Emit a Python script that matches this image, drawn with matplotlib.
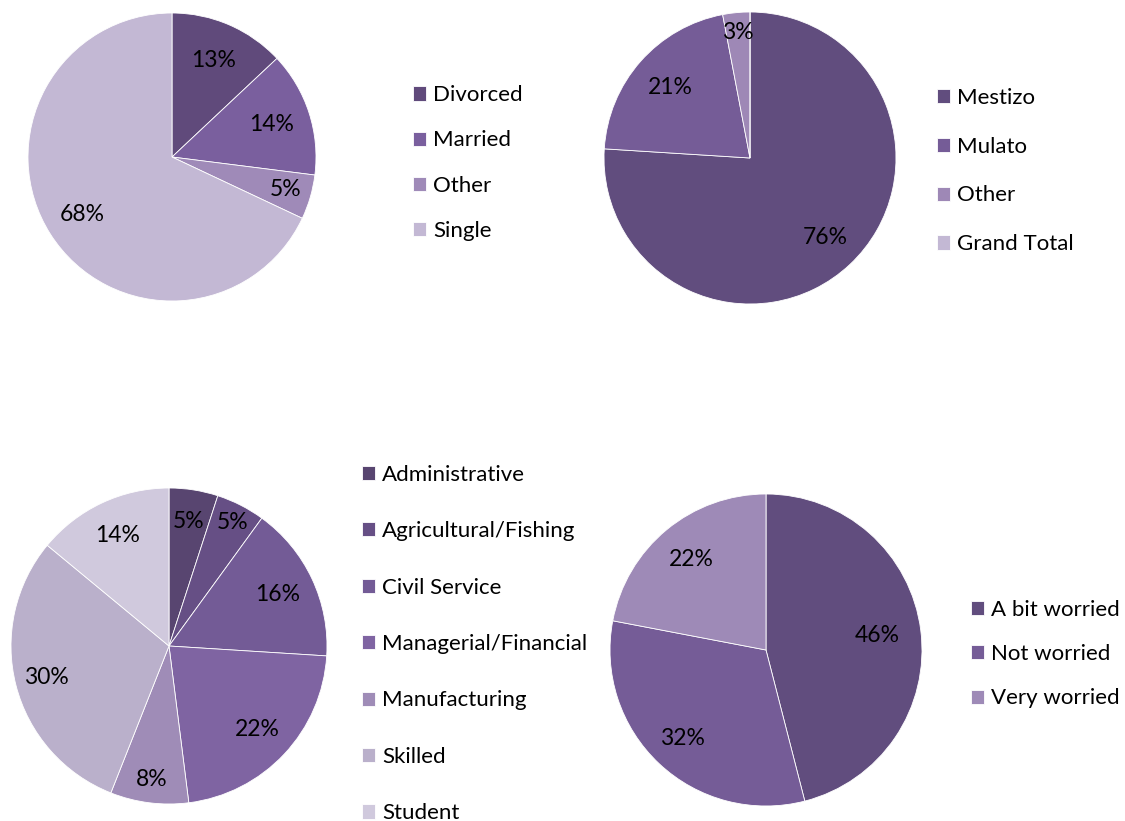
import numpy as np
import matplotlib.pyplot as plt

plt.rcParams['font.family'] = ['Lato', 'DejaVu Sans']

# Marital status
marital_labels = ['Divorced', 'Married', 'Other', 'Single']
marital_vals = [13, 14, 5, 68]
marital_colors = ['#604a7b', '#7a5f9e', '#9f8ab8', '#c3b8d4']

# Ethnicity
ethnic_labels = ['Mestizo', 'Mulato', 'Other', 'Grand Total']
ethnic_vals = [76, 21, 3, 0]
ethnic_colors = ['#614d7e', '#755c97', '#9e88b6', '#c3b8d4']

# Occupation
occ_labels = ['Administrative', 'Agricultural/Fishing', 'Civil Service',
              'Managerial/Financial', 'Manufacturing', 'Skilled', 'Student']
occ_vals = [5, 5, 16, 22, 8, 30, 14]
occ_colors = ['#584570', '#664f85', '#735b96', '#7f64a2', '#9f8cb7', '#bab0cb', '#d0c9dd']

# Worry
worry_labels = ['A bit worried', 'Not worried', 'Very worried']
worry_vals = [46, 32, 22]
worry_colors = ['#614d7e', '#755c97', '#9e8ab7']

W, H = 1125, 821
fig = plt.figure(figsize=(W / 100, H / 100), dpi=100)
fig.patch.set_facecolor('white')


def pct_label(p):
    return '' if p < 0.5 else '%d%%' % round(p)


def draw_pie(cx, cy, r, vals, colors, labels, dists, leg_x, leg_y, spacing):
    ax = fig.add_axes([(cx - r) / W, (H - cy - r) / H, 2 * r / W, 2 * r / H])
    wedges, texts, autotexts = ax.pie(vals, colors=colors, startangle=90, counterclock=False,
                                      autopct=pct_label,
                                      wedgeprops=dict(edgecolor='white', linewidth=0.6),
                                      textprops=dict(fontsize=16.5, color='black'))
    # push each percentage label out to its own radius along the wedge bisector
    for w, t, d in zip(wedges, autotexts, dists):
        mid = np.deg2rad((w.theta1 + w.theta2) / 2)
        t.set_position((d * np.cos(mid), d * np.sin(mid)))
    ax.set_xlim(-1, 1)
    ax.set_ylim(-1, 1)
    ax.set_aspect('equal')
    ax.axis('off')
    fig.legend(wedges, labels, loc='center left',
               bbox_to_anchor=(leg_x / W, 1 - leg_y / H),
               frameon=False, fontsize=16, handlelength=0.6, handleheight=0.6,
               handletextpad=0.3, labelspacing=spacing, borderpad=0,
               borderaxespad=0)


draw_pie(172, 157, 144, marital_vals, marital_colors, marital_labels,
         [0.73, 0.73, 0.82, 0.74], 413, 163, 1.13)
draw_pie(750, 158, 146, ethnic_vals, ethnic_colors, ethnic_labels,
         [0.75, 0.73, 0.86, 0.75], 937, 171, 1.3)
draw_pie(169, 646, 158, occ_vals, occ_colors, occ_labels,
         [0.80, 0.88, 0.76, 0.77, 0.85, 0.80, 0.77], 362, 644, 1.64)
draw_pie(766, 650, 156, worry_vals, worry_colors, worry_labels,
         [0.72, 0.78, 0.75], 971, 654, 1.1)

fig.savefig('out.png', dpi=100)
